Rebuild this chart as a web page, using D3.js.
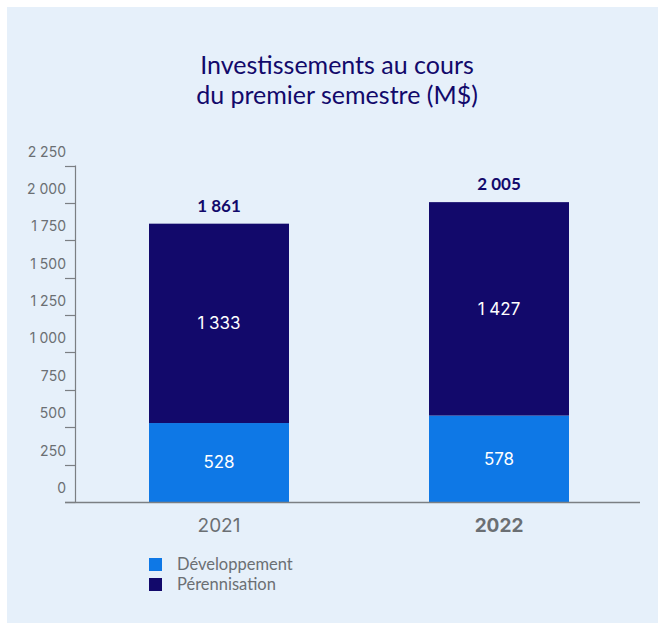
<!DOCTYPE html>
<html>
<head>
<meta charset="utf-8">
<script src="https://cdn.jsdelivr.net/npm/d3@7"></script>
<style>
  body { margin: 0; background: #fff; }
  svg { display: block; }
</style>
</head>
<body>
<div id="chart"></div>
<script>
var years = ["2021", "2022"];
var developpement = [528, 578];
var perennisation = [1333, 1427];
var totals = [1861, 2005];
var yTicks = [0, 250, 500, 750, 1000, 1250, 1500, 1750, 2000, 2250];
var seriesNames = ["Développement", "Pérennisation"];

var W = 658, H = 623;
var DEV_COLOR = "#0e78e6",
  PER_COLOR = "#12096b",
  BG_COLOR = "#e6f0fa",
  TEXT_GRAY = "#6b6f73",
  AXIS_GRAY = "#7b7f83";

var fr = d3.formatLocale({ decimal: ",", thousands: "\u00a0", grouping: [3], currency: ["", " $"] });
var fmt = fr.format(",d");

var svg = d3.select("#chart").append("svg")
    .attr("width", W)
    .attr("height", H);

svg.append("rect")
    .attr("x", 7).attr("y", 7)
    .attr("width", W - 7).attr("height", H - 7)
    .attr("fill", BG_COLOR);

// title
var title = svg.append("text")
    .attr("text-anchor", "middle")
    .attr("fill", PER_COLOR)
    .style("font-family", "Lato, sans-serif")
    .style("font-size", "25px");
title.append("tspan").attr("x", 337).attr("y", 74).text("Investissements au cours");
title.append("tspan").attr("x", 337).attr("y", 104).text("du premier semestre (M$)");

// bar centres at 219 and 499
var x = d3.scalePoint().domain(years).range([219, 499]);
var barW = 140;

var y = d3.scaleLinear()
    .domain([0, 2250])
    .range([502, 165.5]);

// y axis line + ticks
svg.append("line")
    .attr("x1", 75.5).attr("x2", 75.5)
    .attr("y1", y(2250)).attr("y2", y(0))
    .attr("stroke", AXIS_GRAY).attr("stroke-width", 1.2);

svg.selectAll(".ytick")
    .data(yTicks)
    .enter()
    .append("line")
    .attr("class", "ytick")
    .attr("x1", 65).attr("x2", 75.5)
    .attr("y1", function(d) { return Math.round(y(d)) + 0.5; })
    .attr("y2", function(d) { return Math.round(y(d)) + 0.5; })
    .attr("stroke", AXIS_GRAY).attr("stroke-width", 1.2);

svg.selectAll(".ylabel")
    .data(yTicks)
    .enter()
    .append("text")
    .attr("class", "ylabel")
    .attr("x", 66)
    .attr("y", function(d) { return y(d) - 9; })
    .attr("text-anchor", "end")
    .attr("fill", TEXT_GRAY)
    .style("font-family", "Inter, sans-serif")
    .style("font-size", "14px")
    .text(function(d) { return fmt(d); });

// bars
var data = years.map(function(yr, i) {
    return { year: yr, dev: developpement[i], per: perennisation[i], total: totals[i] };
});

var g = svg.selectAll(".bar")
    .data(data)
    .enter()
    .append("g")
    .attr("class", "bar");

g.append("rect")
    .attr("x", function(d) { return x(d.year) - barW / 2; })
    .attr("width", barW)
    .attr("y", function(d) { return y(d.dev); })
    .attr("height", function(d) { return y(0) - y(d.dev); })
    .attr("fill", DEV_COLOR);

g.append("rect")
    .attr("x", function(d) { return x(d.year) - barW / 2; })
    .attr("width", barW)
    .attr("y", function(d) { return y(d.dev + d.per); })
    .attr("height", function(d) { return y(d.dev) - y(d.dev + d.per); })
    .attr("fill", PER_COLOR);

g.append("text")
    .attr("x", function(d) { return x(d.year); })
    .attr("y", function(d) { return (y(0) + y(d.dev)) / 2; })
    .attr("dy", "0.35em")
    .attr("text-anchor", "middle")
    .attr("fill", "#fff")
    .style("font-family", "Inter, sans-serif")
    .style("font-size", "17px")
    .text(function(d) { return fmt(d.dev); });

g.append("text")
    .attr("x", function(d) { return x(d.year); })
    .attr("y", function(d) { return (y(d.dev) + y(d.dev + d.per)) / 2; })
    .attr("dy", "0.35em")
    .attr("text-anchor", "middle")
    .attr("fill", "#fff")
    .style("font-family", "Inter, sans-serif")
    .style("font-size", "17px")
    .text(function(d) { return fmt(d.per); });

g.append("text")
    .attr("x", function(d) { return x(d.year); })
    .attr("y", function(d) { return y(d.total) - 12; })
    .attr("text-anchor", "middle")
    .attr("fill", PER_COLOR)
    .style("font-family", "Lato, sans-serif")
    .style("font-weight", "bold")
    .style("font-size", "17px")
    .text(function(d) { return fmt(d.total); });

// x axis line
svg.append("line")
    .attr("x1", 65).attr("x2", 640)
    .attr("y1", 502.5).attr("y2", 502.5)
    .attr("stroke", AXIS_GRAY).attr("stroke-width", 1.4);

svg.selectAll(".xlabel")
    .data(years)
    .enter()
    .append("text")
    .attr("class", "xlabel")
    .attr("x", function(d) { return x(d); })
    .attr("y", 532)
    .attr("text-anchor", "middle")
    .attr("fill", TEXT_GRAY)
    .style("font-family", "Inter, sans-serif")
    .style("font-size", "19px")
    .style("font-weight", function(d, i) { return i == 1 ? "bold" : "normal"; })
    .text(function(d) { return d; });

// legend
var legend = svg.selectAll(".legend")
    .data(seriesNames)
    .enter()
    .append("g")
    .attr("class", "legend")
    .attr("transform", function(d, i) { return "translate(149," + (558 + i * 20) + ")"; });

legend.append("rect")
    .attr("width", 13).attr("height", 13)
    .attr("fill", function(d, i) { return i == 0 ? DEV_COLOR : PER_COLOR; });

legend.append("text")
    .attr("x", 28).attr("y", 6.5)
    .attr("dy", "0.35em")
    .attr("fill", TEXT_GRAY)
    .style("font-family", "Lato, sans-serif")
    .style("font-size", "16.5px")
    .text(function(d) { return d; });
</script>
</body>
</html>
